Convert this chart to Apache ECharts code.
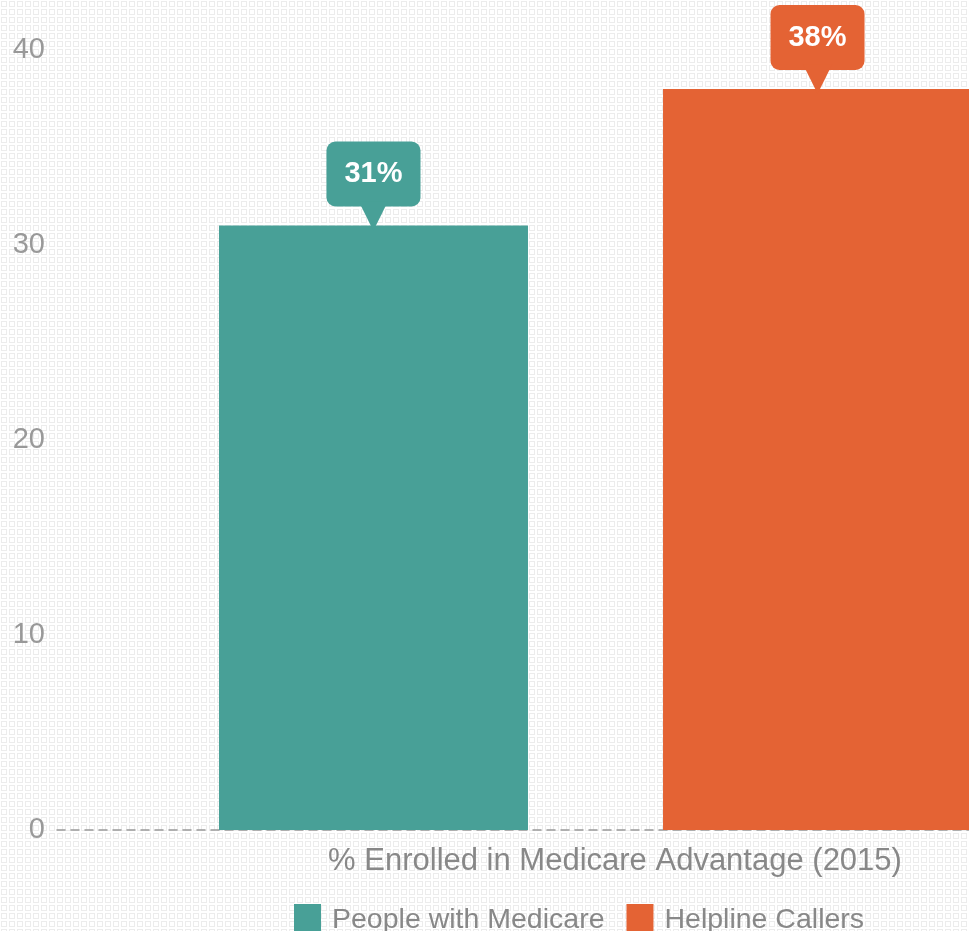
<!DOCTYPE html>
<html><head><meta charset="utf-8">
<script src="https://cdn.jsdelivr.net/npm/echarts@6/dist/echarts.min.js"></script>
<style>html,body{margin:0;padding:0;background:#fff;overflow:hidden;width:969px;height:931px}#c{width:1200px;height:931px}</style>
</head><body><div id="c"></div>
<script>
const categories = ['% Enrolled in Medicare Advantage (2015)'];
const seriesNames = ['People with Medicare', 'Helpline Callers'];
const medicareValues = [31];
const helplineValues = [38];
const yTicks = [0, 10, 20, 30, 40];
const colors = ['#48a097', '#e46334'];

const pat = document.createElement('canvas');
pat.width = 8; pat.height = 8;
const g = pat.getContext('2d');
g.fillStyle = '#ffffff'; g.fillRect(0,0,8,8);
g.strokeStyle = '#ececec'; g.lineWidth = 1;
g.strokeRect(1.5,1.5,5,5);

const FONT = 'Liberation Sans, Arial, sans-serif';

function lbl(color){
  return {
    show: true, position: 'top', distance: 0,
    formatter: p => '{box|' + p.value + '%}\n{tri|▼}',
    rich: {
      box: {backgroundColor: color, color: '#fff', fontSize: 29, fontWeight: 'bold',
            fontFamily: FONT, padding: [18, 18, 18, 18], borderRadius: 9, align: 'center'},
      tri: {color: color, fontSize: 38, lineHeight: 19, align: 'center', fontFamily: 'DejaVu Sans'}
    }
  };
}

const chart = echarts.init(document.getElementById('c'));
chart.setOption({
  backgroundColor: {image: pat, repeat: 'repeat'},
  animation: false,
  grid: {left: 57, top: 50, right: 66, bottom: 101},
  legend: {
    left: 289, top: 899, itemWidth: 27, itemHeight: 32, itemGap: 22,
    icon: 'rect',
    textStyle: {fontSize: 28.5, color: '#888', fontFamily: FONT, padding: [0, 0, 0, 6]},
    data: seriesNames
  },
  xAxis: {
    type: 'category', data: categories,
    axisLine: {show: true, lineStyle: {type: [8, 6], color: '#999', width: 1.5}},
    axisTick: {show: false},
    axisLabel: {fontSize: 31, color: '#888', margin: 16, padding: [0, 0, 0, 39], fontFamily: FONT}
  },
  yAxis: {
    type: 'value', min: 0, max: 40, interval: 10,
    splitLine: {show: false}, axisLine: {show: false}, axisTick: {show: false},
    axisLabel: {fontSize: 29, color: '#999', margin: 12, fontFamily: FONT,
      formatter: v => yTicks.includes(v) ? String(v) : ''}
  },
  series: [
    {name: seriesNames[0], type: 'bar', data: medicareValues, barWidth: 309, barGap: '43.7%',
     itemStyle: {color: colors[0]}, label: lbl(colors[0])},
    {name: seriesNames[1], type: 'bar', data: helplineValues, barWidth: 309,
     itemStyle: {color: colors[1]}, label: lbl(colors[1])}
  ]
});
</script></body></html>
